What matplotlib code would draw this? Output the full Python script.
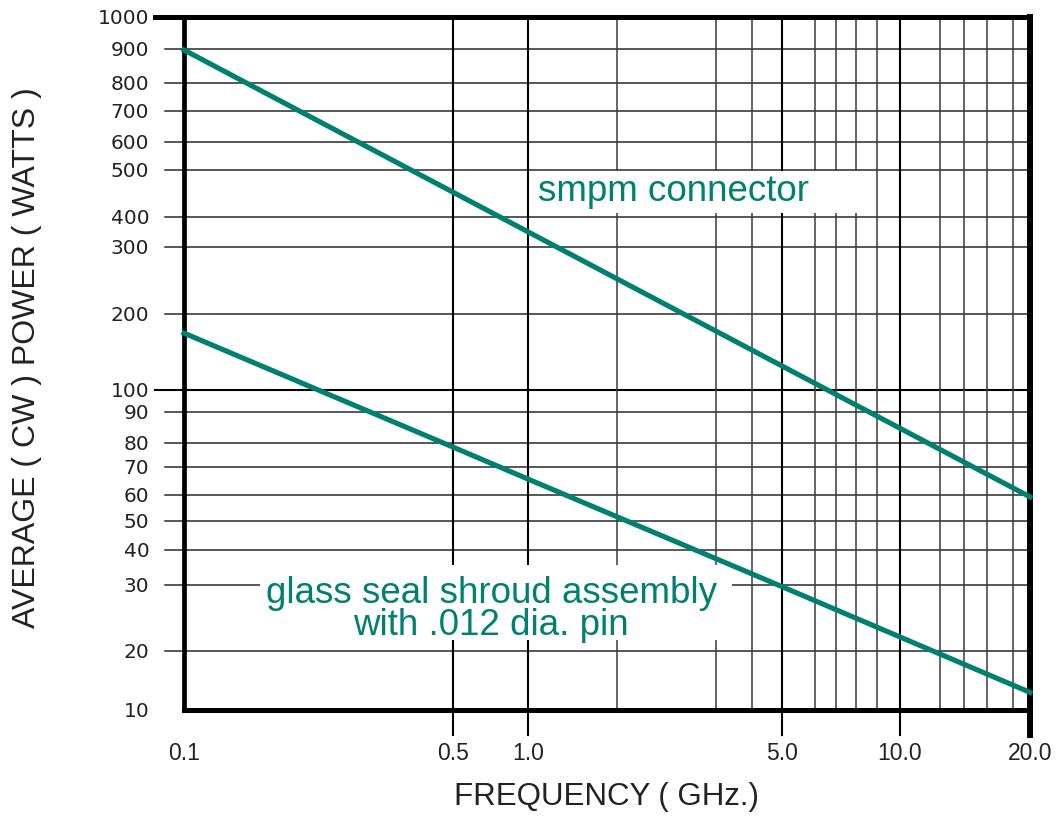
import numpy as np
import matplotlib.pyplot as plt
from matplotlib.patches import Rectangle

# curves (GHz -> watts)
freq = [0.1, 0.5, 1.0, 5.0, 10.0, 20.0]
smpm_watts = [897, 450, 347, 124.5, 84.6, 59.2]
glass_watts = [168, 78.2, 65.5, 29.7, 21.8, 12.3]

x_tick_vals = [0.1, 0.5, 1.0, 5.0, 10.0, 20.0]
x_tick_labels = ['0.1', '0.5', '1.0', '5.0', '10.0', '20.0']
x_minor_vals = [2, 3, 4, 6, 7, 8, 9, 12, 14, 16, 18]

y_tick_vals = [10, 20, 30, 40, 50, 60, 70, 80, 90, 100,
               200, 300, 400, 500, 600, 700, 800, 900, 1000]
y_tick_labels = [str(v) for v in y_tick_vals]

# the printed chart is a hand-ruled log grid; calibrate the scale to it
x_cal_vals = [0.1, 0.5, 1, 2, 3, 4, 5, 6, 7, 8, 9, 10, 12, 14, 16, 18, 20]
x_cal_pos = [184, 453, 528, 617, 716, 752, 782, 815, 836, 856, 877, 900,
             940, 964, 987, 1013, 1030]
y_cal_pos = [710, 651, 585, 550, 521, 495, 467, 443, 412, 390,
             314, 247, 217, 170, 142, 111, 83, 49, 17]


def make_scale(vals, pos):
    lv = np.log10(np.asarray(vals, float))
    p = np.asarray(pos, float)

    def fwd(v):
        v = np.clip(np.asarray(v, float), 1e-6, None)
        return np.interp(np.log10(v), lv, p)

    def inv(u):
        return 10 ** np.interp(np.asarray(u, float), p, lv)
    return fwd, inv


teal = '#00806f'
W, H = 1057, 816
fig = plt.figure(figsize=(W / 100, H / 100), dpi=100)
ax = fig.add_axes([184 / W, 1 - 710 / H, (1030 - 184) / W, (710 - 17) / H])

ax.set_xscale('function', functions=make_scale(x_cal_vals, x_cal_pos))
ax.set_yscale('function', functions=make_scale(y_tick_vals, [-p for p in y_cal_pos]))

for s in ax.spines.values():
    s.set_visible(False)

aw = 1030 - 184
ah = 710 - 17

# grid
for v in y_tick_vals[1:-1]:
    if v == 100:
        ax.axhline(v, xmin=-29 / aw, xmax=1, color='black', lw=1.5, clip_on=False, zorder=1)
    else:
        ax.axhline(v, xmin=-19 / aw, xmax=1, color='#2a2a2a', lw=1.1, clip_on=False, zorder=1)
for v in x_tick_vals[1:-1]:
    ax.axvline(v, ymin=-25 / ah, ymax=1, color='black', lw=1.5, clip_on=False, zorder=1)
for v in x_minor_vals:
    ax.axvline(v, color='#3a3a3a', lw=1.1, zorder=1)

# frame
ax.axhline(1000, xmin=-29 / aw, xmax=1, color='black', lw=3.6, clip_on=False,
           solid_capstyle='projecting', zorder=2)
ax.axhline(10, color='black', lw=3.6, clip_on=False, solid_capstyle='projecting', zorder=2)
ax.axvline(0.1, color='black', lw=3.4, clip_on=False, solid_capstyle='projecting', zorder=2)
ax.axvline(20, ymin=-25 / ah, ymax=1, color='black', lw=4.3, clip_on=False,
           solid_capstyle='projecting', zorder=2)

# white boxes behind the labels
for (x0, y0, x1, y1) in [(531, 171, 857, 213), (260, 565, 732, 640)]:
    ax.add_artist(Rectangle((x0 / W, 1 - y1 / H), (x1 - x0) / W, (y1 - y0) / H,
                            transform=fig.transFigure, facecolor='white',
                            edgecolor='none', zorder=2.5))

ax.plot(freq, smpm_watts, color=teal, lw=3.7, solid_capstyle='projecting',
        clip_on=False, zorder=3)
ax.plot(freq, glass_watts, color=teal, lw=3.7, solid_capstyle='projecting',
        clip_on=False, zorder=3)

ax.set_xlim(0.1, 20)
ax.set_ylim(10, 1000)

ax.set_xticks(x_tick_vals, x_tick_labels, family='Liberation Sans', fontsize=16.5, color='#222222')
ax.set_yticks(y_tick_vals, y_tick_labels, family='DejaVu Sans', fontsize=14.5, color='#222222')
ax.minorticks_off()
ax.tick_params(axis='x', length=0, pad=23)
ax.tick_params(axis='y', length=0, pad=25)

fig.text(538 / W, 1 - 201 / H, 'smpm connector', color=teal, fontsize=26.5,
         family='Liberation Sans', ha='left', va='baseline')
fig.text(491 / W, 1 - 603 / H, 'glass seal shroud assembly', color=teal, fontsize=26.5,
         family='Liberation Sans', ha='center', va='baseline')
fig.text(491 / W, 1 - 635 / H, 'with .012 dia. pin', color=teal, fontsize=26.5,
         family='Liberation Sans', ha='center', va='baseline')

fig.text(607 / W, 1 - 797 / H, 'FREQUENCY ( GHz.)', fontsize=22.5, color='#222222',
         family='Liberation Sans', ha='center', va='center')
fig.text(27 / W, 1 - 358 / H, 'AVERAGE ( CW ) POWER ( WATTS )', fontsize=23,
         color='#222222', family='Liberation Sans', rotation=90, ha='center', va='center')

fig.savefig('out.png', dpi=100, facecolor='white')
